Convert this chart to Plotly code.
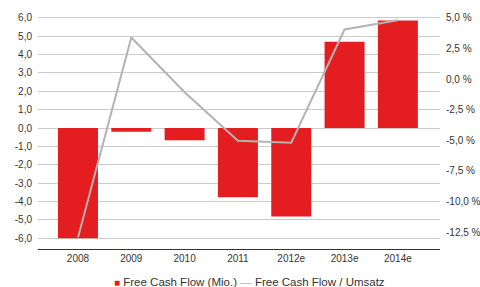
import plotly.graph_objects as go

years = ["2008", "2009", "2010", "2011", "2012e", "2013e", "2014e"]
fcf_mio = [-6.0, -0.2, -0.67, -3.77, -4.82, 4.7, 5.85]
fcf_umsatz = [-12.95, 3.4, -1.07, -5.04, -5.2, 4.05, 4.8]

left_ticks = [-6, -5, -4, -3, -2, -1, 0, 1, 2, 3, 4, 5, 6]
left_text = [f"{v:.1f}".replace(".", ",") for v in left_ticks]
right_ticks = [-12.5, -10.0, -7.5, -5.0, -2.5, 0.0, 2.5, 5.0]
right_text = [f"{v:.1f} %".replace(".", ",") for v in right_ticks]

bar_name = "Free Cash Flow (Mio.)"
line_name = "Free Cash Flow / Umsatz"
bar_color = "#e41e20"
line_color = "#b3b3b3"

font = dict(family="Liberation Sans, Arial, sans-serif", size=10, color="#333333")
legend_font = dict(family="Liberation Sans, Arial, sans-serif", size=11.5, color="#333333")

fig = go.Figure()
fig.add_trace(go.Bar(
    x=years, y=fcf_mio, name=bar_name,
    marker=dict(color=bar_color, line=dict(width=0)), width=0.75,
    yaxis="y"))
fig.add_trace(go.Scatter(
    x=years, y=fcf_umsatz, name=line_name, mode="lines",
    line=dict(color=line_color, width=2), yaxis="y2"))

legend_text = (f"<span style='color:{bar_color};font-size:10px'>■</span> {bar_name} "
               f"<span style='color:{line_color}'>—</span> {line_name}")

fig.update_layout(
    width=480, height=287,
    margin=dict(l=38, r=40, t=15.5, b=38, autoexpand=False),
    paper_bgcolor="white", plot_bgcolor="white",
    font=font,
    showlegend=False,
    annotations=[dict(text=legend_text, xref="paper", yref="paper",
                      x=0.525, y=-0.141, xanchor="center", yanchor="middle",
                      showarrow=False, font=legend_font)],
    xaxis=dict(type="category", range=[-0.75, 6.79], showgrid=False,
               showline=True, linecolor="#333333", linewidth=1, ticks="",
               tickfont=font, automargin=False),
    yaxis=dict(range=[-6.59, 6.1], tickvals=left_ticks, ticktext=left_text,
               showgrid=True, gridcolor="#cccccc", gridwidth=1, zeroline=False,
               showline=False, ticks="", tickfont=font, ticklabelstandoff=5,
               automargin=False),
    yaxis2=dict(range=[-13.88, 5.15], tickvals=right_ticks, ticktext=right_text,
                overlaying="y", side="right", showgrid=False, zeroline=False,
                showline=False, ticks="", tickfont=font, ticklabelstandoff=5,
                automargin=False),
)

fig.write_html("out.html",
               config={"displayModeBar": False},
               post_script="document.body.style.margin='0';document.body.style.overflow='hidden';")
